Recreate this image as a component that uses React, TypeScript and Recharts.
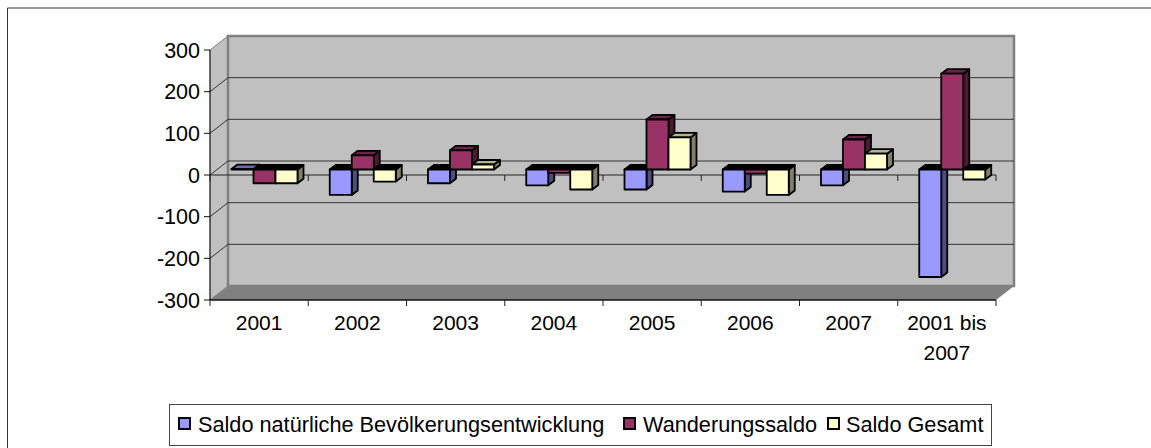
import React from 'react'
import { BarChart, Bar, XAxis, YAxis, CartesianGrid, Legend } from 'recharts'

const categories = ['2001', '2002', '2003', '2004', '2005', '2006', '2007', '2001 bis 2007']
const naturalValues = [1, -61, -33, -38, -48, -53, -38, -258]
const migrationValues = [-33, 34, 46, -8, 120, -10, 72, 230]
const totalValues = [-33, -29, 12, -48, 77, -61, 38, -24]
const yTicks = [-300, -200, -100, 0, 100, 200, 300]

const seriesNames = ['Saldo natürliche Bevölkerungsentwicklung', 'Wanderungssaldo', 'Saldo Gesamt']
const seriesColors = ['#9999ff', '#993366', '#ffffcc']
const topColors = ['#6b6bb3', '#6b2447', '#b3b38f']
const sideColors = ['#4d4d80', '#4d1a33', '#808066']

const data = categories.map((name, i) => ({
  name,
  natural: naturalValues[i],
  migration: migrationValues[i],
  total: totalValues[i],
}))

const WIDTH = 1151
const HEIGHT = 448
const LEFT = 210
const RIGHT = 996
const TOP = 50
const BOTTOM = 300
const ZERO = (TOP + BOTTOM) / 2
const BAND = (RIGHT - LEFT) / categories.length
const FONT = '"Liberation Sans", Arial, sans-serif'
// wall offset of the fake 3d box, bars stand half way in
const WALL_X = 18
const WALL_Y = 14

function Bar3D(props: any, index: number) {
  const { x, y, width, height } = props
  const top = Math.min(y, y + height) - 5.5
  const bottom = Math.max(y, y + height) - 5.5
  const left = x + 5.5
  const right = left + width
  const positive = y < ZERO - 0.01
  const dx = 6
  const dy = 4.5
  return (
    <g stroke="#000" strokeWidth={1.8} strokeLinejoin="round">
      <polygon
        points={`${right},${top} ${right + dx},${top - dy} ${right + dx},${bottom - dy} ${right},${bottom}`}
        fill={sideColors[index]}
      />
      <polygon
        points={`${left},${top} ${left + dx},${top - dy} ${right + dx},${top - dy} ${right},${top}`}
        fill={positive ? topColors[index] : '#000'}
      />
      <rect x={left} y={top} width={width} height={bottom - top} fill={seriesColors[index]} />
    </g>
  )
}

function GridLine(props: any) {
  const { y1 } = props
  const isZero = Math.abs(y1 - ZERO) < 1
  const isEdge = Math.abs(y1 - TOP) < 1 || Math.abs(y1 - BOTTOM) < 1
  return (
    <g>
      {!isEdge && (
        <line x1={LEFT + WALL_X} x2={RIGHT + WALL_X} y1={y1 - WALL_Y} y2={y1 - WALL_Y} stroke="#333" strokeWidth={1} />
      )}
      {!isEdge && <line x1={LEFT} x2={LEFT + WALL_X} y1={y1} y2={y1 - WALL_Y} stroke="#333" strokeWidth={1} />}
      {isZero && <line x1={LEFT} x2={RIGHT} y1={y1} y2={y1} stroke="#222" strokeWidth={1.2} />}
    </g>
  )
}

function CategoryTick(props: any) {
  const { x, y, payload, index } = props
  const left = x - BAND / 2
  const right = x + BAND / 2
  const words = String(payload.value).includes(' bis ')
    ? ['2001 bis', '2007']
    : [String(payload.value)]
  return (
    <g>
      <line x1={left} x2={left} y1={BOTTOM} y2={BOTTOM + 6} stroke="#222" />
      <line x1={left} x2={left} y1={ZERO} y2={ZERO + 6} stroke="#222" />
      {index === categories.length - 1 && (
        <>
          <line x1={right} x2={right} y1={BOTTOM} y2={BOTTOM + 6} stroke="#222" />
          <line x1={right} x2={right} y1={ZERO} y2={ZERO + 6} stroke="#222" />
        </>
      )}
      {words.map((word, i) => (
        <text key={word} x={x} y={y + 22 + i * 30} textAnchor="middle" fontSize={21} fontFamily={FONT} fill="#000">
          {word}
        </text>
      ))}
    </g>
  )
}

function LegendBox() {
  const swatches = [178, 623, 827]
  const labels = [198, 643, 846]
  return (
    <div
      style={{
        position: 'relative',
        width: 823,
        height: 42,
        boxSizing: 'border-box',
        border: '1px solid #444',
        background: '#fff',
        fontFamily: FONT,
        fontSize: 21.7,
        color: '#000',
      }}
    >
      {seriesNames.map((name, i) => (
        <React.Fragment key={name}>
          <span
            style={{
              position: 'absolute',
              left: swatches[i] - 170,
              top: 12,
              width: 9,
              height: 9,
              border: '2px solid #000',
              background: seriesColors[i],
            }}
          />
          <span style={{ position: 'absolute', left: labels[i] - 170, top: 7, whiteSpace: 'nowrap' }}>{name}</span>
        </React.Fragment>
      ))}
    </div>
  )
}

export default function App() {
  const wallRight = RIGHT + WALL_X
  const wallLeft = LEFT + WALL_X
  return (
    <div style={{ position: 'absolute', left: 0, top: 0, width: WIDTH, height: HEIGHT, background: '#fff' }}>
      <svg width={WIDTH} height={HEIGHT} style={{ position: 'absolute', left: 0, top: 0 }}>
        <line x1={7.5} x2={WIDTH} y1={8} y2={8} stroke="#333" />
        <line x1={7.5} x2={7.5} y1={8} y2={HEIGHT} stroke="#333" />
        <polygon
          points={`${LEFT},${TOP} ${wallLeft},${TOP - WALL_Y} ${wallLeft},${BOTTOM - WALL_Y} ${LEFT},${BOTTOM}`}
          fill="#c0c0c0"
          stroke="#808080"
        />
        <rect
          x={wallLeft}
          y={TOP - WALL_Y}
          width={RIGHT - LEFT}
          height={BOTTOM - TOP}
          fill="#c0c0c0"
          stroke="#808080"
          strokeWidth={2.5}
        />
        <polygon
          points={`${LEFT},${BOTTOM} ${wallLeft},${BOTTOM - WALL_Y} ${wallRight},${BOTTOM - WALL_Y} ${RIGHT},${BOTTOM}`}
          fill="#808080"
        />
      </svg>
      <div style={{ position: 'absolute', left: 0, top: 0 }}>
        <BarChart
          width={WIDTH}
          height={HEIGHT}
          data={data}
          barGap={0}
          barCategoryGap={16}
          margin={{ top: TOP, right: WIDTH - RIGHT, bottom: HEIGHT - BOTTOM - 60 - 42, left: LEFT - 70 }}
        >
          <CartesianGrid horizontal={GridLine} vertical={false} />
          <XAxis
            dataKey="name"
            height={60}
            interval={0}
            tick={CategoryTick}
            tickLine={false}
            axisLine={{ stroke: '#111', strokeWidth: 1.5 }}
          />
          <YAxis
            width={70}
            domain={[-300, 300]}
            ticks={yTicks}
            interval={0}
            tick={{ fontSize: 21.5, fontFamily: FONT, fill: '#000' }}
            tickSize={6}
            tickMargin={4}
            stroke="#111"
          />
          <Bar dataKey="natural" name={seriesNames[0]} shape={(p: any) => Bar3D(p, 0)} isAnimationActive={false} />
          <Bar dataKey="migration" name={seriesNames[1]} shape={(p: any) => Bar3D(p, 1)} isAnimationActive={false} />
          <Bar dataKey="total" name={seriesNames[2]} shape={(p: any) => Bar3D(p, 2)} isAnimationActive={false} />
          <Legend
            content={() => <LegendBox />}
            wrapperStyle={{ position: 'absolute', left: 169, top: 404, width: 823, height: 42, bottom: 'auto' }}
          />
        </BarChart>
      </div>
    </div>
  )
}
